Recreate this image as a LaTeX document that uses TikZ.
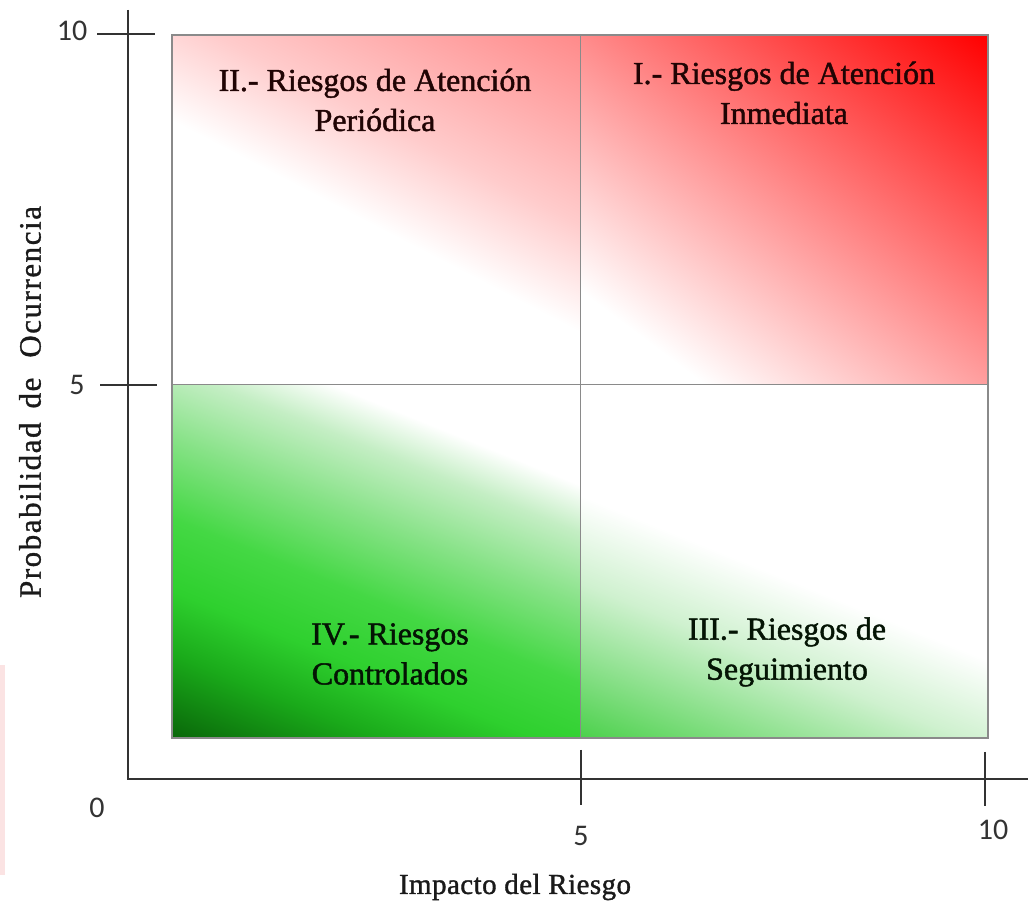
\documentclass[tikz,border=0pt]{standalone}
\usepackage{fontspec}
\setmainfont{Liberation Serif}
\newfontfamily\numfont{Carlito}
\newfontfamily\qfont[FakeBold=1.4]{Liberation Serif}
\newfontfamily\titlefont[LetterSpace=1.5,FakeBold=1.2]{Liberation Serif}
\newfontfamily\ytitlefont[LetterSpace=5,FakeBold=1.0]{Liberation Serif}

\definecolor{pinkA}{HTML}{FFCCCC}
\definecolor{pinkB}{HTML}{FF8A8A}
\definecolor{gA}{HTML}{C4EEC4}
\definecolor{gB}{HTML}{86E286}
\definecolor{gC}{HTML}{44D844}
\definecolor{gD}{HTML}{2ED02E}
\definecolor{gE}{HTML}{1AAA1A}
\definecolor{gF}{HTML}{0A6A0A}
\definecolor{hA}{HTML}{CFF1CF}
\definecolor{hB}{HTML}{48D048}
\definecolor{axisgray}{HTML}{333333}
\definecolor{gridgray}{HTML}{8A8A8A}
\definecolor{stripe}{HTML}{FBE3E3}
\definecolor{redtext}{HTML}{200404}
\definecolor{greentext}{HTML}{041404}
\definecolor{titletext}{HTML}{1A1A1A}

\pgfdeclareverticalshading{shTR}{100bp}{color(0bp)=(white); color(25bp)=(white); color(85bp)=(red); color(100bp)=(red)}
\pgfdeclareverticalshading{shTL}{100bp}{color(0bp)=(white); color(48bp)=(white); color(61bp)=(pinkA); color(84bp)=(pinkB); color(100bp)=(pinkB)}
\pgfdeclareverticalshading{shBL}{100bp}{color(0bp)=(white); color(30bp)=(white); color(36bp)=(gA); color(45bp)=(gB); color(55bp)=(gC); color(64bp)=(gD); color(72bp)=(gE); color(82bp)=(gF); color(100bp)=(gF)}
\pgfdeclareverticalshading{shBR}{100bp}{color(0bp)=(white); color(52bp)=(white); color(63bp)=(hA); color(83bp)=(hB); color(100bp)=(hB)}

\tikzset{
  axisline/.style={draw=axisgray, line width=2pt},
  gridline/.style={draw=gridgray, line width=1.3pt},
  midline/.style={draw=gridgray, line width=1pt},
  ticklabel/.style={font=\numfont\fontsize{30}{32}\selectfont, text=axisgray, inner sep=0pt},
  qlabel/.style={align=center, font=\qfont\fontsize{32}{40}\selectfont, inner sep=0pt},
  axistitle/.style={inner sep=0pt, text=titletext},
}

\begin{document}
\begin{tikzpicture}[x=1pt, y=1pt]
\useasboundingbox (0,0) rectangle (1028,913);
\fill[white] (0,0) rectangle (1028,913);

% faint stripe at the left edge
\fill[stripe] (0,38) rectangle (5,248);

% quadrant corners
\coordinate (bl) at (172,175);
\coordinate (tr) at (988,878);
\coordinate (mid) at (580,528);

% shaded quadrants
\shade[shading=shTL, shading angle=-27.4] (172,528) rectangle (580,878);
\shade[shading=shTR, shading angle=-36.9] (580,528) rectangle (988,878);
\shade[shading=shBL, shading angle=158] (172,175) rectangle (580,528);
\shade[shading=shBR, shading angle=158] (580,175) rectangle (988,528);

% midlines and frame
\draw[midline] (580,175) -- (580,878);
\draw[midline] (172,528) -- (988,528);
\draw[gridline] (bl) rectangle (tr);

% axes
\coordinate (ytop) at (128,903);
\coordinate (origin) at (128,134);
\coordinate (xend) at (1028,134);
\draw[axisline] (ytop) -- (origin) -- (xend);

% ticks
\coordinate (yt10a) at (97,879);  \coordinate (yt10b) at (155,879);
\coordinate (yt5a) at (100,528);  \coordinate (yt5b) at (157,528);
\coordinate (xt5a) at (581,163);  \coordinate (xt5b) at (581,108);
\coordinate (xt10a) at (985,161); \coordinate (xt10b) at (985,107);
\draw[axisline] (yt10a) -- (yt10b);
\draw[axisline] (yt5a) -- (yt5b);
\draw[axisline] (xt5a) -- (xt5b);
\draw[axisline] (xt10a) -- (xt10b);

% tick labels
\node[ticklabel] (ly10) at (72,882) {10};
\node[ticklabel] (ly5) at (77,528) {5};
\node[ticklabel] (l0) at (97,105) {0};
\node[ticklabel] (lx5) at (581,77) {5};
\node[ticklabel] (lx10) at (993,83) {10};

% axis titles
\node[axistitle, font=\titlefont\fontsize{29}{32}\selectfont] (xtitle) at (515,26) {Impacto del Riesgo};
\node[axistitle, rotate=90, font=\ytitlefont\fontsize{31}{34}\selectfont] (ytitle) at (30,511) {Probabilidad\hspace{14pt}de\hspace{20pt}Ocurrencia};

% quadrant labels
\node[qlabel, text=redtext] (q2) at (375,813) {II.- Riesgos de Atención\\Periódica};
\node[qlabel, text=redtext] (q1) at (784,820) {I.- Riesgos de Atención\\Inmediata};
\node[qlabel, text=greentext] (q4) at (390,259) {IV.- Riesgos\\Controlados};
\node[qlabel, text=greentext] (q3) at (787,261) {III.- Riesgos de\\Seguimiento};
\end{tikzpicture}
\end{document}
